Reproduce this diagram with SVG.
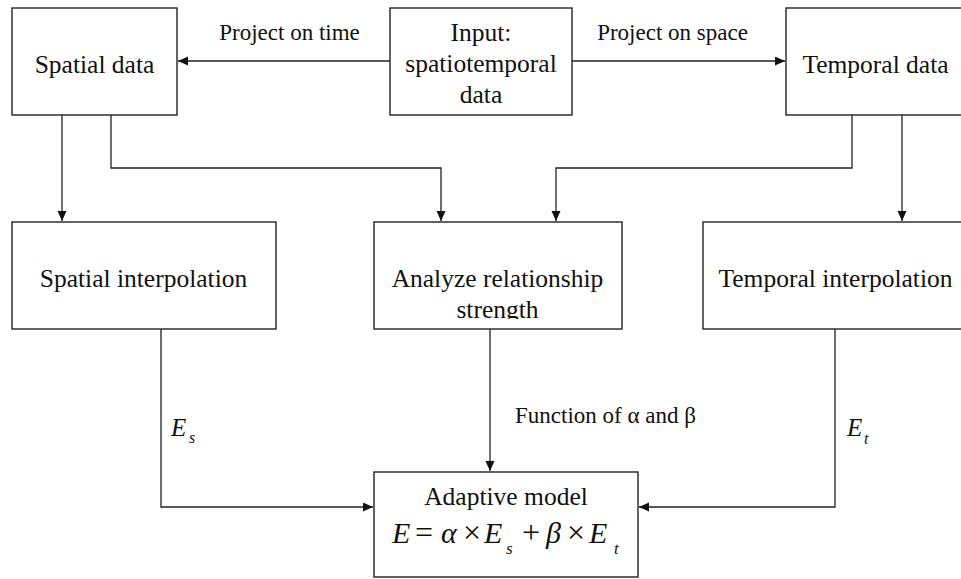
<svg xmlns="http://www.w3.org/2000/svg" width="961" height="579" viewBox="0 0 961 579" font-family="'Liberation Serif', 'Times New Roman', 'DejaVu Serif', serif">
<style>
.box{fill:#fff;stroke:#222;stroke-width:1.4}
.t{font-size:25.5px;fill:#111;text-anchor:middle}
.lbl{font-size:23px;fill:#111}
.m{font-style:italic;fill:#111}
.op{font-style:normal;font-size:32px}
.c{fill:none;stroke:#222;stroke-width:1.3}
</style>
<defs>
<marker id="ah" markerUnits="userSpaceOnUse" markerWidth="11" markerHeight="10" refX="10" refY="4.5" orient="auto">
<path d="M0,0 L10,4.5 L0,9 z" fill="#111"/>
</marker>
<clipPath id="clipA"><rect x="374" y="222" width="248" height="97"/></clipPath>
</defs>
<rect width="961" height="579" fill="#fff"/>
<g id="spatial-data"><rect class="box" x="12" y="8" width="165" height="107"/><text class="t" x="94.5" y="73">Spatial data</text></g>
<g id="input"><rect class="box" x="390" y="8" width="182" height="107"/><text class="t" x="481" y="41">Input:</text><text class="t" x="481" y="72">spatiotemporal</text><text class="t" x="481" y="103">data</text></g>
<g id="temporal-data"><rect class="box" x="786" y="8" width="200" height="107"/><text class="t" x="875.5" y="73">Temporal data</text></g>
<g id="spatial-interp"><rect class="box" x="12" y="222" width="264" height="107"/><text class="t" x="143.5" y="287">Spatial interpolation</text></g>
<g id="analyze"><rect class="box" x="374" y="222" width="248" height="107"/><g clip-path="url(#clipA)"><text class="t" x="497.5" y="287">Analyze relationship</text><text class="t" x="497.5" y="318">strength</text></g></g>
<g id="temporal-interp"><rect class="box" x="703" y="222" width="300" height="107"/><text class="t" x="835.5" y="287">Temporal interpolation</text></g>
<g id="adaptive"><rect class="box" x="374" y="472" width="264" height="105"/><text class="t" x="506" y="505">Adaptive model</text>
<text class="m" font-size="30" y="543"><tspan x="392">E</tspan><tspan class="op" x="415">=</tspan><tspan x="441">α</tspan><tspan class="op" x="463">×</tspan><tspan x="484">E</tspan><tspan class="op" x="522">+</tspan><tspan x="546">β</tspan><tspan class="op" x="567">×</tspan><tspan x="589">E</tspan></text>
<text class="m" font-size="17" y="554"><tspan x="506">s</tspan><tspan x="614">t</tspan></text>
</g>
<g id="connectors">
<path class="c" d="M390,61 H178" marker-end="url(#ah)"/>
<path class="c" d="M572,61 H785" marker-end="url(#ah)"/>
<path class="c" d="M62,115 V221" marker-end="url(#ah)"/>
<path class="c" d="M111,115 V168 H441 V221" marker-end="url(#ah)"/>
<path class="c" d="M852,115 V168 H556 V221" marker-end="url(#ah)"/>
<path class="c" d="M902,115 V221" marker-end="url(#ah)"/>
<path class="c" d="M161,329 V507 H373" marker-end="url(#ah)"/>
<path class="c" d="M490,329 V471" marker-end="url(#ah)"/>
<path class="c" d="M835,329 V507 H639" marker-end="url(#ah)"/>
<text class="lbl" x="289.5" y="40" text-anchor="middle">Project on time</text>
<text class="lbl" x="672.5" y="40" text-anchor="middle">Project on space</text>
<text class="lbl" x="515" y="423">Function of α and β</text>
<text class="m" font-size="25" x="171" y="436">E</text><text class="m" font-size="16" x="189" y="443">s</text>
<text class="m" font-size="25" x="847" y="436">E</text><text class="m" font-size="16" x="864" y="444">t</text>
</g>
</svg>
